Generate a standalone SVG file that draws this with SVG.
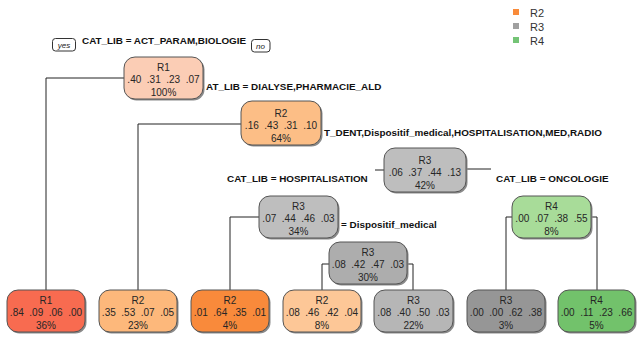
<svg xmlns="http://www.w3.org/2000/svg" width="638" height="340" viewBox="0 0 638 340">
<style>
.bg{fill:#ffffff}
.box{stroke:#555555;stroke-width:1}
.sh{fill:#8a8a8a}
.nt{font-family:"Liberation Sans",Arial,sans-serif;font-size:10px;fill:#262626;text-anchor:middle}
.sp{font-family:"Liberation Sans",Arial,sans-serif;font-size:9.9px;font-weight:bold;fill:#111111}
.lg{font-family:"Liberation Sans",Arial,sans-serif;font-size:11px;fill:#333333}
.yn{font-family:"Liberation Sans",Arial,sans-serif;font-size:8px;font-style:italic;fill:#222222;text-anchor:middle}
.ynb{fill:#ffffff;stroke:#333333;stroke-width:1}
.ln{fill:none;stroke:#222222;stroke-width:1}
</style>
<rect class="bg" x="0" y="0" width="638" height="340"/>
<g id="legend">
<rect x="513" y="9" width="6" height="6" fill="#F98B3A"/>
<text class="lg" x="530" y="17">R2</text>
<rect x="513" y="23" width="6" height="6" fill="#A0A0A0"/>
<text class="lg" x="530" y="31">R3</text>
<rect x="513" y="37" width="6" height="6" fill="#74C476"/>
<text class="lg" x="530" y="45">R4</text>
</g>
<g id="split-labels">
<rect class="ynb" x="52.5" y="38.5" width="23" height="12.5" rx="3"/>
<text class="yn" x="64" y="48">yes</text>
<text class="sp" x="82" y="44">CAT_LIB = ACT_PARAM,BIOLOGIE</text>
<rect class="ynb" x="251.5" y="39.5" width="18.5" height="12.5" rx="3"/>
<text class="yn" x="260.5" y="49">no</text>
<text class="sp" x="206" y="90">AT_LIB = DIALYSE,PHARMACIE_ALD</text>
<text class="sp" x="324" y="136">T_DENT,Dispositif_medical,HOSPITALISATION,MED,RADIO</text>
<text class="sp" x="227" y="182">CAT_LIB = HOSPITALISATION</text>
<text class="sp" x="496" y="182">CAT_LIB = ONCOLOGIE</text>
<text class="sp" x="341" y="228">= Dispositif_medical</text>
</g>
<g id="connectors">
<polyline class="ln" points="124,78 46,78 46,290"/>
<polyline class="ln" points="241,124 138,124 138,290"/>
<polyline class="ln" points="384,170 375,170"/>
<polyline class="ln" points="466,169 491,169"/>
<polyline class="ln" points="259,217 230,217 230,290"/>
<polyline class="ln" points="329,264 322,264 322,290"/>
<polyline class="ln" points="407,264 413,264 413,290"/>
<polyline class="ln" points="512,217 506,217 506,290"/>
<polyline class="ln" points="591,217 597,217 597,290"/>
</g>
<g id="n1">
<rect class="sh" x="125.5" y="58.5" width="79" height="42" rx="11"/>
<rect class="box" x="124" y="57" width="79" height="42" rx="11" fill="#FBCDB5"/>
<text class="nt" x="163.5" y="71">R1</text>
<text class="nt" x="163.5" y="83" xml:space="preserve">.40  .31  .23  .07</text>
<text class="nt" x="163.5" y="96">100%</text>
</g>
<g id="n3">
<rect class="sh" x="242.5" y="102.5" width="80" height="44" rx="11"/>
<rect class="box" x="241" y="101" width="80" height="44" rx="11" fill="#FCBE86"/>
<text class="nt" x="281" y="117">R2</text>
<text class="nt" x="281" y="129" xml:space="preserve">.16  .43  .31  .10</text>
<text class="nt" x="281" y="142">64%</text>
</g>
<g id="n7">
<rect class="sh" x="385.5" y="149.5" width="82" height="44" rx="11"/>
<rect class="box" x="384" y="148" width="82" height="44" rx="11" fill="#BEBEBE"/>
<text class="nt" x="425" y="164">R3</text>
<text class="nt" x="425" y="176" xml:space="preserve">.06  .37  .44  .13</text>
<text class="nt" x="425" y="189">42%</text>
</g>
<g id="n14">
<rect class="sh" x="260.5" y="197.5" width="79" height="42" rx="11"/>
<rect class="box" x="259" y="196" width="79" height="42" rx="11" fill="#BEBEBE"/>
<text class="nt" x="298.5" y="210">R3</text>
<text class="nt" x="298.5" y="222" xml:space="preserve">.07  .44  .46  .03</text>
<text class="nt" x="298.5" y="235">34%</text>
</g>
<g id="n15">
<rect class="sh" x="513.5" y="197.5" width="79" height="42" rx="11"/>
<rect class="box" x="512" y="196" width="79" height="42" rx="11" fill="#A8DC99"/>
<text class="nt" x="551.5" y="210">R4</text>
<text class="nt" x="551.5" y="222" xml:space="preserve">.00  .07  .38  .55</text>
<text class="nt" x="551.5" y="235">8%</text>
</g>
<g id="n29">
<rect class="sh" x="330.5" y="243.5" width="78" height="42" rx="11"/>
<rect class="box" x="329" y="242" width="78" height="42" rx="11" fill="#ADADAD"/>
<text class="nt" x="368" y="256">R3</text>
<text class="nt" x="368" y="268" xml:space="preserve">.08  .42  .47  .03</text>
<text class="nt" x="368" y="281">30%</text>
</g>
<g id="leaf-2">
<rect class="sh" x="8.5" y="291.5" width="78" height="42" rx="11"/>
<rect class="box" x="7" y="290" width="78" height="42" rx="11" fill="#F86B50"/>
<text class="nt" x="46" y="304">R1</text>
<text class="nt" x="46" y="316" xml:space="preserve">.84  .09  .06  .00</text>
<text class="nt" x="46" y="329">36%</text>
</g>
<g id="leaf-6">
<rect class="sh" x="100.5" y="291.5" width="78" height="42" rx="11"/>
<rect class="box" x="99" y="290" width="78" height="42" rx="11" fill="#FDB87B"/>
<text class="nt" x="138" y="304">R2</text>
<text class="nt" x="138" y="316" xml:space="preserve">.35  .53  .07  .05</text>
<text class="nt" x="138" y="329">23%</text>
</g>
<g id="leaf-28">
<rect class="sh" x="192.5" y="291.5" width="78" height="42" rx="11"/>
<rect class="box" x="191" y="290" width="78" height="42" rx="11" fill="#F98A3B"/>
<text class="nt" x="230" y="304">R2</text>
<text class="nt" x="230" y="316" xml:space="preserve">.01  .64  .35  .01</text>
<text class="nt" x="230" y="329">4%</text>
</g>
<g id="leaf-58">
<rect class="sh" x="284.5" y="291.5" width="78" height="42" rx="11"/>
<rect class="box" x="283" y="290" width="78" height="42" rx="11" fill="#FDC797"/>
<text class="nt" x="322" y="304">R2</text>
<text class="nt" x="322" y="316" xml:space="preserve">.08  .46  .42  .04</text>
<text class="nt" x="322" y="329">8%</text>
</g>
<g id="leaf-59">
<rect class="sh" x="375.5" y="291.5" width="79" height="42" rx="11"/>
<rect class="box" x="374" y="290" width="79" height="42" rx="11" fill="#B6B6B6"/>
<text class="nt" x="413.5" y="304">R3</text>
<text class="nt" x="413.5" y="316" xml:space="preserve">.08  .40  .50  .03</text>
<text class="nt" x="413.5" y="329">22%</text>
</g>
<g id="leaf-30">
<rect class="sh" x="468.5" y="291.5" width="78" height="42" rx="11"/>
<rect class="box" x="467" y="290" width="78" height="42" rx="11" fill="#969696"/>
<text class="nt" x="506" y="304">R3</text>
<text class="nt" x="506" y="316" xml:space="preserve">.00  .00  .62  .38</text>
<text class="nt" x="506" y="329">3%</text>
</g>
<g id="leaf-31">
<rect class="sh" x="559.5" y="291.5" width="77" height="42" rx="11"/>
<rect class="box" x="558" y="290" width="77" height="42" rx="11" fill="#72C26B"/>
<text class="nt" x="596.5" y="304">R4</text>
<text class="nt" x="596.5" y="316" xml:space="preserve">.00  .11  .23  .66</text>
<text class="nt" x="596.5" y="329">5%</text>
</g>
</svg>
